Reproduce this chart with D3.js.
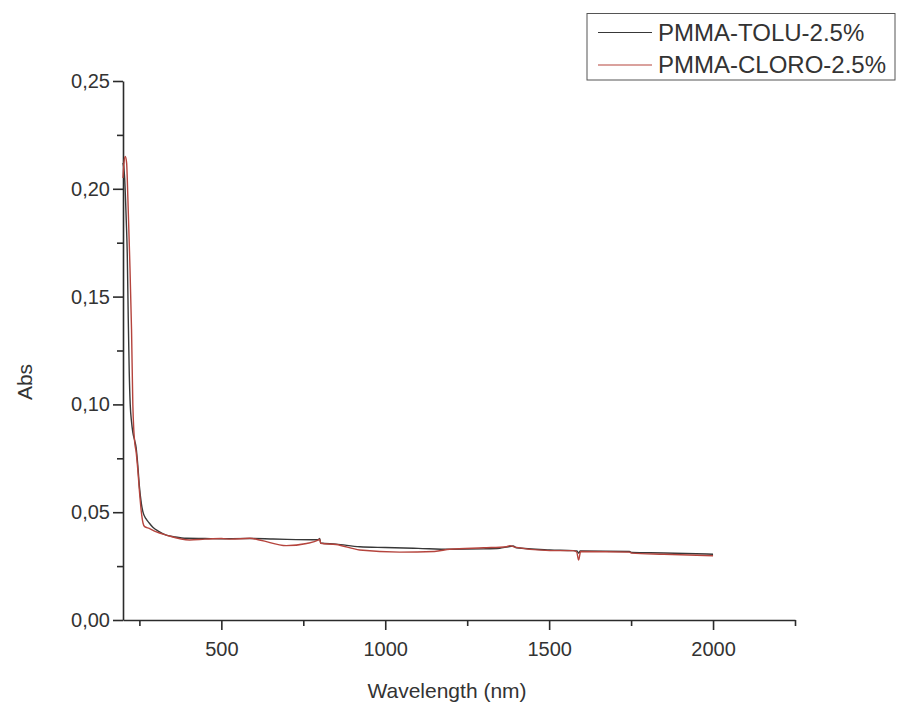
<!DOCTYPE html>
<html>
<head>
<meta charset="utf-8">
<script src="https://cdn.jsdelivr.net/npm/d3@7"></script>
<style>
  body { margin: 0; background: #fff; }
  svg { display: block; font-family: 'Liberation Sans', Arial, sans-serif; }
  .axis path, .axis line { stroke: #2b2b2b; stroke-width: 1.6px; }
  .axis text { fill: #333; font-size: 20px; }
  .axisLabel { fill: #333; font-size: 21px; }
  .legend text { fill: #333; font-size: 24px; }
</style>
</head>
<body>
<svg id="chart" width="901" height="707"></svg>
<script>
// wavelength (nm) / absorbance
const toluWavelength = [200, 205, 210, 213, 216, 219, 222, 226, 230, 236, 240, 245, 250, 256, 261, 270, 280, 291, 310, 332, 360, 393, 450, 500, 587, 650, 700, 795, 800, 803, 850, 922, 1000, 1100, 1197, 1300, 1349, 1375, 1390, 1400, 1502, 1573, 1585, 1590, 1595, 1745, 1752, 1850, 2000];
const toluAbs = [0.212, 0.205, 0.185, 0.17, 0.14, 0.115, 0.1, 0.092, 0.087, 0.083, 0.08, 0.072, 0.062, 0.054, 0.05, 0.047, 0.045, 0.043, 0.041, 0.0394, 0.0385, 0.0379, 0.0378, 0.0377, 0.0378, 0.0376, 0.0374, 0.0372, 0.0378, 0.0357, 0.0352, 0.034, 0.0336, 0.0332, 0.0328, 0.033, 0.0333, 0.034, 0.0343, 0.0335, 0.0325, 0.0322, 0.032, 0.031, 0.032, 0.0318, 0.0313, 0.0311, 0.0305];

const cloroWavelength = [200, 203, 207, 211, 215, 220, 226, 230, 233, 236, 240, 245, 250, 256, 261, 266, 280, 300, 332, 403, 450, 500, 530, 587, 620, 698, 760, 795, 800, 803, 850, 922, 1044, 1150, 1197, 1300, 1370, 1380, 1395, 1502, 1573, 1584, 1590, 1596, 1745, 1752, 1850, 2000];
const cloroAbs = [0.205, 0.212, 0.215, 0.212, 0.195, 0.17, 0.135, 0.1, 0.088, 0.082, 0.078, 0.07, 0.06, 0.05, 0.045, 0.0433, 0.0425, 0.041, 0.0394, 0.0371, 0.0375, 0.0378, 0.0375, 0.0379, 0.037, 0.0345, 0.0355, 0.037, 0.0375, 0.0356, 0.035, 0.0325, 0.0315, 0.0318, 0.0328, 0.0335, 0.034, 0.0345, 0.0338, 0.0322, 0.0322, 0.0315, 0.0278, 0.0318, 0.0315, 0.031, 0.0305, 0.0298];

const seriesNames = ['PMMA-TOLU-2.5%', 'PMMA-CLORO-2.5%'];
const seriesColors = ['#383838', '#b5443d'];

const xMajorTicks = [500, 1000, 1500, 2000];
const xMinorTicks = [250, 750, 1250, 1750, 2250];
const yMajorTicks = [0, 0.05, 0.1, 0.15, 0.2, 0.25];
const yMinorTicks = [0.025, 0.075, 0.125, 0.175, 0.225];

const width = 901,
  height = 707,
  margin = { top: 81, right: 106, bottom: 87, left: 123 },
  chartWidth = width - margin.left - margin.right,
  chartHeight = height - margin.top - margin.bottom;

const commaFormat = d3.formatLocale({ decimal: ',', thousands: '.', grouping: [3], currency: ['', ''] }).format('.2f');

const svg = d3.select('#chart');
const g = svg.append('g').attr('transform', 'translate(' + margin.left + ',' + margin.top + ')');

const x = d3.scaleLinear().domain([200, 2250]).range([0, chartWidth]);
const y = d3.scaleLinear().domain([0, 0.25]).range([chartHeight, 0]);

// minor ticks first, major axes on top
g.append('g')
  .attr('class', 'axis')
  .attr('transform', 'translate(0,' + chartHeight + ')')
  .call(d3.axisBottom(x).tickValues(xMinorTicks).tickSize(6).tickFormat(''))
  .select('.domain').remove();

g.append('g')
  .attr('class', 'axis')
  .call(d3.axisLeft(y).tickValues(yMinorTicks).tickSize(6).tickFormat(''))
  .select('.domain').remove();

g.append('g')
  .attr('class', 'axis')
  .attr('transform', 'translate(0,' + chartHeight + ')')
  .call(d3.axisBottom(x).tickValues(xMajorTicks).tickSizeInner(10).tickSizeOuter(0).tickPadding(12).tickFormat(d3.format('d')));

const yAxisLayer = g.append('g')
  .attr('class', 'axis')
  .call(d3.axisLeft(y).tickValues(yMajorTicks).tickSizeInner(10).tickSizeOuter(0).tickPadding(4).tickFormat(commaFormat));

yAxisLayer.selectAll('text').attr('x', -13);

g.append('text')
  .attr('class', 'axisLabel')
  .attr('x', 324)
  .attr('y', chartHeight + 78)
  .style('text-anchor', 'middle')
  .text('Wavelength (nm)');

g.append('text')
  .attr('class', 'axisLabel')
  .attr('transform', 'rotate(-90)')
  .attr('x', -301)
  .attr('y', -91)
  .style('text-anchor', 'middle')
  .text('Abs');

/* spectra */
const line = d3.line()
  .curve(d3.curveMonotoneX)
  .x(d => x(d[0]))
  .y(d => y(d[1]));

const series = [
  d3.zip(toluWavelength, toluAbs),
  d3.zip(cloroWavelength, cloroAbs)
];

g.append('g')
  .selectAll('path')
  .data(series)
  .enter()
  .append('path')
  .attr('d', line)
  .attr('fill', 'none')
  .attr('stroke', (d, i) => seriesColors[i])
  .attr('stroke-width', 1.4);

/* legend */
const legend = svg.append('g').attr('class', 'legend');
legend.append('rect')
  .attr('x', 587)
  .attr('y', 13.5)
  .attr('width', 308)
  .attr('height', 66.5)
  .attr('fill', '#fff')
  .attr('stroke', '#555')
  .attr('stroke-width', 1);

const items = legend.selectAll('.item')
  .data(seriesNames)
  .enter()
  .append('g')
  .attr('transform', (d, i) => 'translate(0,' + (32.5 + i * 32.5) + ')');

items.append('line')
  .attr('x1', 598)
  .attr('x2', 652)
  .attr('stroke', (d, i) => seriesColors[i])
  .attr('stroke-width', 1.2);

items.append('text')
  .attr('x', 658)
  .attr('dy', '0.35em')
  .text(d => d);
</script>
</body>
</html>
